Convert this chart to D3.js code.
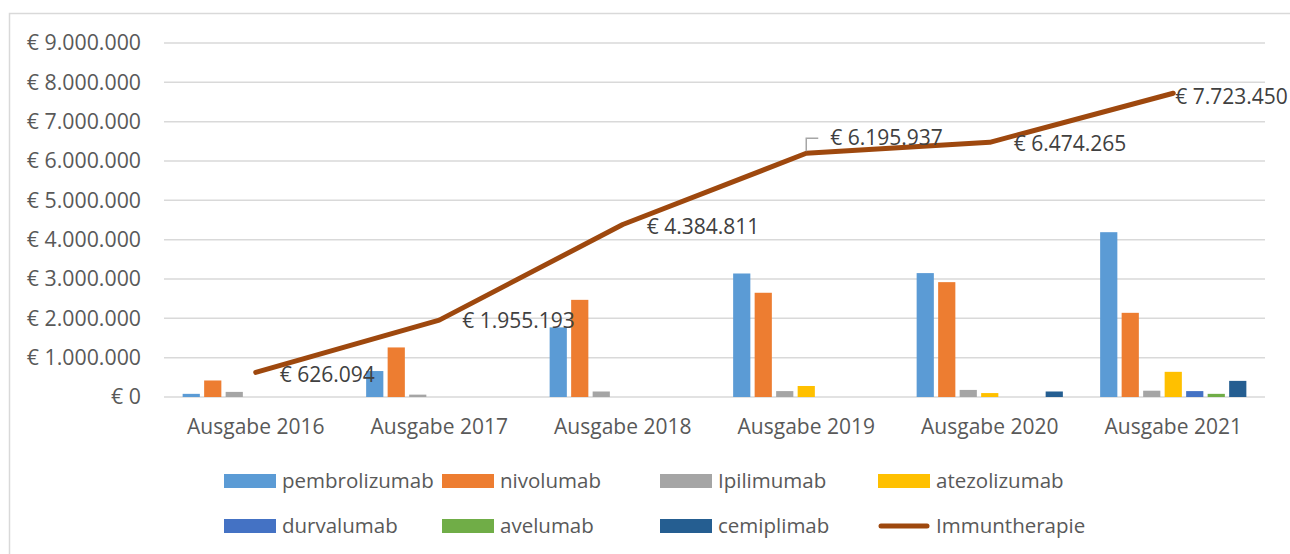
<!DOCTYPE html>
<html>
<head>
<meta charset="utf-8">
<script src="https://cdn.jsdelivr.net/npm/d3@7"></script>
<style>
  body { margin: 0; background: #fff; }
  text { font-family: "Open Sans", "Noto Sans", sans-serif; }
</style>
</head>
<body>
<svg id="chart" width="1290" height="554"></svg>
<script>
// categories + series
var categories = ["Ausgabe 2016", "Ausgabe 2017", "Ausgabe 2018", "Ausgabe 2019", "Ausgabe 2020", "Ausgabe 2021"];
var seriesNames = ["pembrolizumab", "nivolumab", "Ipilimumab", "atezolizumab", "durvalumab", "avelumab", "cemiplimab"];
var seriesColors = ["#5B9BD5", "#ED7D31", "#A5A5A5", "#FFC000", "#4472C4", "#70AD47", "#255E91"];

var pembrolizumab = [80000, 660000, 1770000, 3140000, 3150000, 4190000];
var nivolumab     = [420000, 1260000, 2470000, 2650000, 2920000, 2140000];
var ipilimumab    = [130000, 60000, 140000, 150000, 180000, 160000];
var atezolizumab  = [0, 0, 0, 280000, 100000, 640000];
var durvalumab    = [0, 0, 0, 0, 0, 150000];
var avelumab      = [0, 0, 0, 0, 0, 80000];
var cemiplimab    = [0, 0, 0, 0, 140000, 410000];

var immuntherapie = [626094, 1955193, 4384811, 6195937, 6474265, 7723450];
var yTicks = [0, 1000000, 2000000, 3000000, 4000000, 5000000, 6000000, 7000000, 8000000, 9000000];

var seriesValues = [pembrolizumab, nivolumab, ipilimumab, atezolizumab, durvalumab, avelumab, cemiplimab];

// label nudges for the line labels (excel moved some of them)
var labelShift = [[24, 2], [23, 1], [24, 2], [24, -16], [24, 1], [2, 3]];

var de = d3.formatLocale({decimal: ",", thousands: ".", grouping: [3], currency: ["€ ", ""]});
var euro = de.format("$,.0f");

var svg = d3.select("#chart");
var plotL = 164, plotR = 1265, plotT = 43, plotB = 397;

// chart area border
svg.append("rect")
  .attr("x", 9.5).attr("y", 13.5)
  .attr("width", 1300).attr("height", 600)
  .attr("fill", "#fff")
  .attr("stroke", "#D9D9D9").attr("stroke-width", 1.5);

var x0 = d3.scaleBand().domain(categories).range([plotL, plotR]);
var x1 = d3.scaleBand().domain(seriesNames).range([0, x0.bandwidth()])
  .paddingInner(0.2).paddingOuter(0.867);
var y = d3.scaleLinear().domain([0, 9000000]).range([plotB, plotT]);

// gridlines
svg.append("g")
  .selectAll("line")
  .data(yTicks)
  .enter()
  .append("line")
    .attr("x1", plotL).attr("x2", plotR)
    .attr("y1", function(d){ return y(d) }).attr("y2", function(d){ return y(d) })
    .attr("stroke", "#D9D9D9").attr("stroke-width", 1.5);

// y tick labels
svg.append("g")
  .selectAll("text")
  .data(yTicks)
  .enter()
  .append("text")
    .attr("x", 141)
    .attr("y", function(d){ return y(d) })
    .attr("dy", "0.35em")
    .attr("text-anchor", "end")
    .attr("font-size", 21.3)
    .attr("fill", "#595959")
    .text(function(d){ return euro(d) });

// category labels
svg.append("g")
  .selectAll("text")
  .data(categories)
  .enter()
  .append("text")
    .attr("x", function(d){ return x0(d) + x0.bandwidth() / 2 })
    .attr("y", 434)
    .attr("text-anchor", "middle")
    .attr("font-size", 21)
    .attr("fill", "#595959")
    .text(function(d){ return d });

// bars
var bars = [];
seriesNames.forEach(function(s, i){
  categories.forEach(function(c, j){
    if (seriesValues[i][j] > 0) bars.push({cat: c, name: s, value: seriesValues[i][j], color: seriesColors[i]});
  });
});
svg.append("g")
  .selectAll("rect")
  .data(bars)
  .enter()
  .append("rect")
    .attr("x", function(d){ return x0(d.cat) + x1(d.name) })
    .attr("width", x1.bandwidth())
    .attr("y", function(d){ return y(d.value) })
    .attr("height", function(d){ return y(0) - y(d.value) })
    .attr("fill", function(d){ return d.color });

// total line
var cx = function(i){ return x0(categories[i]) + x0.bandwidth() / 2 };
var line = d3.line()
  .x(function(d, i){ return cx(i) })
  .y(function(d){ return y(d) });
svg.append("path")
  .datum(immuntherapie)
  .attr("d", line)
  .attr("fill", "none")
  .attr("stroke", "#9E480E")
  .attr("stroke-width", 5)
  .attr("stroke-linejoin", "round")
  .attr("stroke-linecap", "round");

// leader line for the moved 2019 label
svg.append("path")
  .attr("d", "M" + cx(3) + "," + (y(immuntherapie[3]) - 2) + "V" + (y(immuntherapie[3]) + labelShift[3][1] + 1) + "h12")
  .attr("fill", "none")
  .attr("stroke", "#A6A6A6")
  .attr("stroke-width", 1.5);

svg.append("g")
  .selectAll("text")
  .data(immuntherapie)
  .enter()
  .append("text")
    .attr("x", function(d, i){ return cx(i) + labelShift[i][0] })
    .attr("y", function(d, i){ return y(d) + labelShift[i][1] })
    .attr("dy", "0.35em")
    .attr("font-size", 21)
    .attr("fill", "#404040")
    .text(function(d){ return euro(d) });

// legend
var legendItems = seriesNames.map(function(s, i){ return {name: s, color: seriesColors[i], line: false} });
legendItems.push({name: "Immuntherapie", color: "#9E480E", line: true});
var lg = svg.append("g")
  .selectAll("g")
  .data(legendItems)
  .enter()
  .append("g")
    .attr("transform", function(d, i){ return "translate(" + (224 + (i % 4) * 218) + "," + (481 + Math.floor(i / 4) * 45) + ")" });
lg.filter(function(d){ return !d.line })
  .append("rect")
    .attr("x", 0).attr("y", -7)
    .attr("width", 52).attr("height", 14)
    .attr("fill", function(d){ return d.color });
lg.filter(function(d){ return d.line })
  .append("line")
    .attr("x1", 3).attr("x2", 49)
    .attr("y1", 0).attr("y2", 0)
    .attr("stroke", function(d){ return d.color })
    .attr("stroke-width", 5)
    .attr("stroke-linecap", "round");
lg.append("text")
  .attr("x", 58)
  .attr("y", 0)
  .attr("dy", "0.35em")
  .attr("font-size", 20.5)
  .attr("fill", "#595959")
  .text(function(d){ return d.name });
</script>
</body>
</html>
